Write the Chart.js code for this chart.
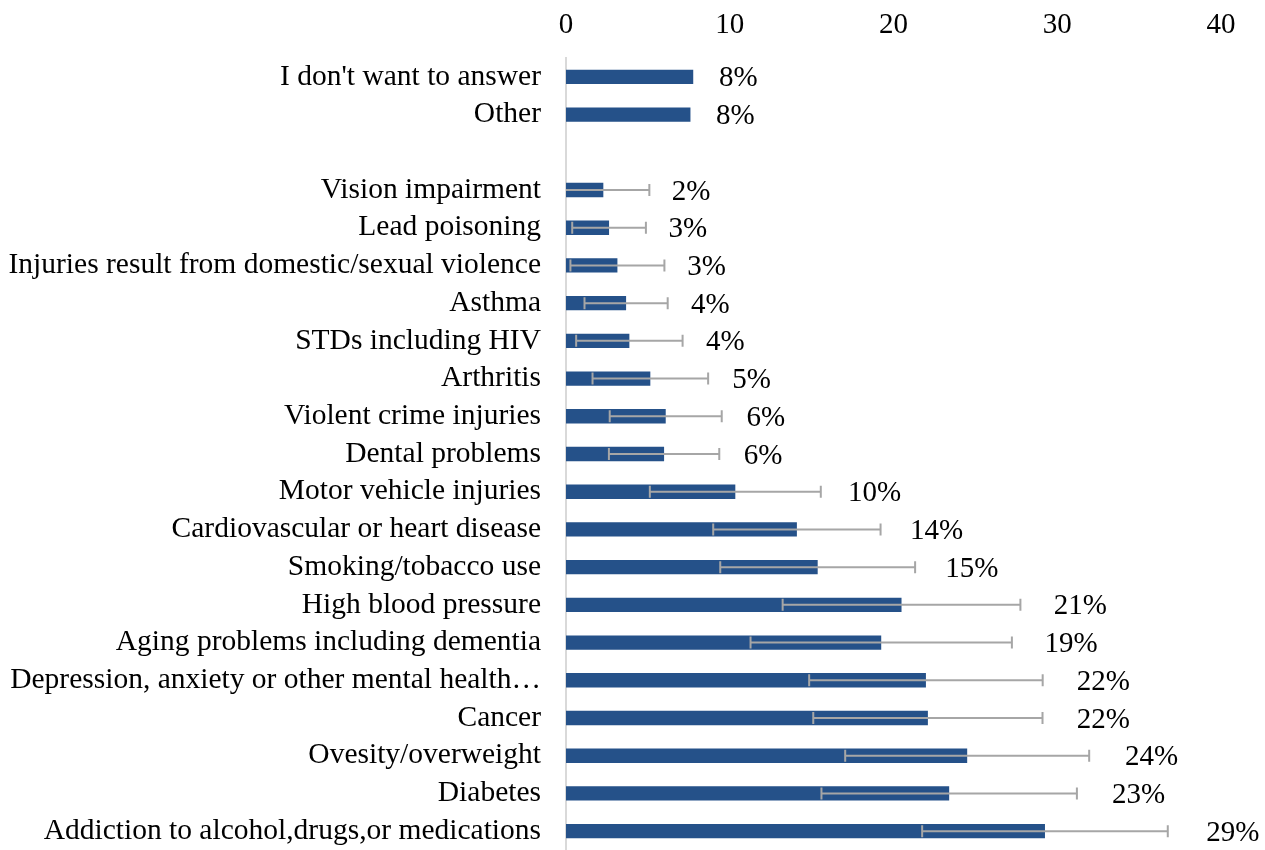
<!DOCTYPE html>
<html>
<head>
<meta charset="utf-8">
<script src="https://cdn.jsdelivr.net/npm/chart.js@4/dist/chart.umd.min.js"></script>
<style>
  html, body { margin: 0; padding: 0; background: #fff; }
  #wrap { width: 1265px; height: 850px; }
</style>
</head>
<body>
<div id="wrap"><canvas id="barChart" width="1265" height="850"></canvas></div>
<script>
const categories = [
  "I don't want to answer",
  "Other",
  "",
  "Vision impairment",
  "Lead poisoning",
  "Injuries result from domestic/sexual violence",
  "Asthma",
  "STDs including HIV",
  "Arthritis",
  "Violent crime injuries",
  "Dental problems",
  "Motor vehicle injuries",
  "Cardiovascular or heart disease",
  "Smoking/tobacco use",
  "High blood pressure",
  "Aging problems including dementia",
  "Depression, anxiety or other mental health…",
  "Cancer",
  "Ovesity/overweight",
  "Diabetes",
  "Addiction to alcohol,drugs,or medications"
];

const values = [7.77, 7.6, null, 2.28, 2.63, 3.14, 3.67, 3.87, 5.15, 6.09, 5.99,
  10.34, 14.1, 15.37, 20.49, 19.25, 21.98, 22.1, 24.5, 23.4, 29.25];

// +/- error margin, null where no error bar is shown
const errMargin = [null, null, null, 2.81, 2.25, 2.87, 2.54, 3.25, 3.53, 3.42, 3.37,
  5.22, 5.11, 5.95, 7.26, 7.98, 7.13, 7.0, 7.45, 7.8, 7.5];

const pctLabels = ["8%", "8%", "", "2%", "3%", "3%", "4%", "4%", "5%", "6%", "6%",
  "10%", "14%", "15%", "21%", "19%", "22%", "22%", "24%", "23%", "29%"];

const xTicks = [0, 10, 20, 30, 40];

const FONT = "'Liberation Serif', 'Times New Roman', serif";

const errorBarsAndLabels = {
  id: 'errorBarsAndLabels',
  afterDatasetsDraw(chart) {
    const ctx = chart.ctx;
    const xScale = chart.scales.x;
    const meta = chart.getDatasetMeta(0);
    const area = chart.chartArea;

    // error bars, clipped to the plot area
    ctx.save();
    ctx.beginPath();
    ctx.rect(area.left, area.top, area.right - area.left, area.bottom - area.top);
    ctx.clip();
    ctx.strokeStyle = '#a6a6a6';
    ctx.lineWidth = 2;
    values.forEach((v, i) => {
      const m = errMargin[i];
      if (v == null || m == null) return;
      const y = meta.data[i].y;
      const x1 = xScale.getPixelForValue(v - m);
      const x2 = xScale.getPixelForValue(v + m);
      ctx.beginPath();
      ctx.moveTo(x1, y); ctx.lineTo(x2, y);
      ctx.moveTo(x1, y - 6); ctx.lineTo(x1, y + 6);
      ctx.moveTo(x2, y - 6); ctx.lineTo(x2, y + 6);
      ctx.stroke();
    });
    ctx.restore();

    // percentage labels
    ctx.save();
    ctx.font = '29px ' + FONT;
    ctx.fillStyle = '#000';
    ctx.textAlign = 'left';
    ctx.textBaseline = 'middle';
    values.forEach((v, i) => {
      if (v == null) return;
      const end = errMargin[i] != null ? v + errMargin[i] : v;
      const x = xScale.getPixelForValue(end) + 21 + 0.6 * v;
      ctx.fillText(pctLabels[i], x, meta.data[i].y + 2);
    });
    ctx.restore();
  }
};

const ctx = document.getElementById('barChart').getContext('2d');
new Chart(ctx, {
  type: 'bar',
  data: {
    labels: categories,
    datasets: [{
      data: values,
      backgroundColor: '#255189',
      borderWidth: 0,
      barPercentage: 0.38,
      categoryPercentage: 1
    }]
  },
  options: {
    indexAxis: 'y',
    responsive: false,
    devicePixelRatio: 1,
    animation: false,
    layout: { padding: { left: 0, right: 44, top: 0, bottom: 0 } },
    plugins: {
      legend: { display: false },
      tooltip: { enabled: false }
    },
    scales: {
      x: {
        position: 'top',
        min: 0,
        max: 40,
        afterBuildTicks: (scale) => { scale.ticks = xTicks.map(v => ({ value: v })); },
        afterFit: (scale) => { scale.height = 58; },
        grid: { display: false, drawTicks: false },
        border: { display: false },
        ticks: { color: '#000', padding: 15, font: { family: FONT, size: 29 } }
      },
      y: {
        afterFit: (scale) => {
          scale.width = 566;
          scale.paddingTop = 0;
          scale.paddingBottom = 0;
        },
        grid: { display: false, drawTicks: false },
        border: { display: true, color: '#d9d9d9', width: 2 },
        ticks: { color: '#000', padding: 25, autoSkip: false, font: { family: FONT, size: 29.5 } }
      }
    }
  },
  plugins: [errorBarsAndLabels]
});
</script>
</body>
</html>
